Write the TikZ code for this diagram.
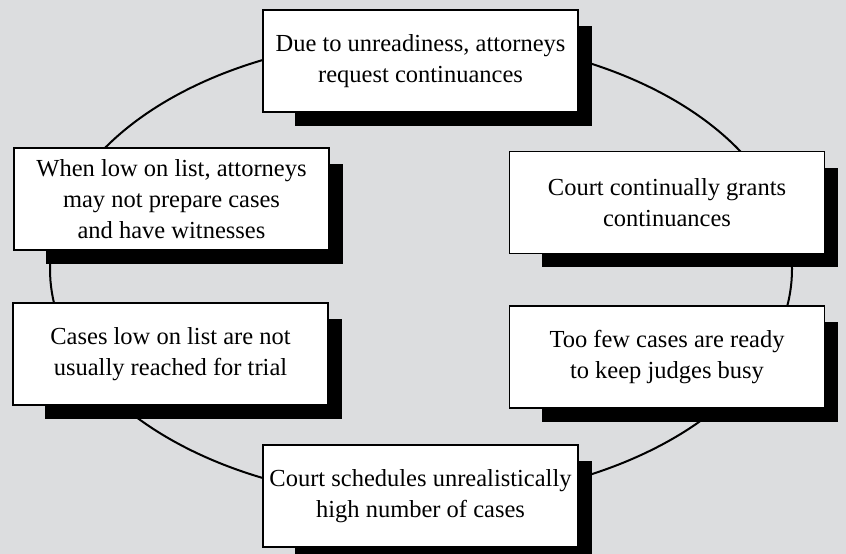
\documentclass[tikz,border=0pt]{standalone}
\usepackage{fontspec}
\setmainfont{Liberation Serif}
\usetikzlibrary{shapes.geometric}
\definecolor{bggray}{HTML}{DCDDDF}
\pgfdeclarelayer{back}
\pgfdeclarelayer{shade}
\pgfsetlayers{back,shade,main}
\tikzset{
  box/.style={draw=black, line width=1.8pt, fill=white, align=center,
    minimum width=315pt, minimum height=102pt, inner sep=0pt,
    font=\fontsize{24.5}{31}\selectfont},
  cycleline/.style={draw=black, line width=2pt},
}
\newcommand{\boxshadow}[1]{%
  \begin{pgfonlayer}{shade}
    \fill[black] ([shift={(33,17)}]#1.north west) rectangle ([shift={(13,13)}]#1.south east);
  \end{pgfonlayer}}
\begin{document}
\begin{tikzpicture}[x=1pt,y=-1pt]
\useasboundingbox (0,0) rectangle (846,554);
\clip (0,0) rectangle (846,554);
\begin{pgfonlayer}{back}
  \fill[bggray] (0,0) rectangle (846,554);
  \node[ellipse, cycleline, minimum width=742pt, minimum height=462pt, inner sep=0pt] (loop) at (421,269) {};
\end{pgfonlayer}
\node[box] (t)  at (420.5,61)  {Due to unreadiness, attorneys\\request continuances};
\node[box] (ur) at (667,202.5) {Court continually grants\\continuances};
\node[box] (lr) at (667,357)   {Too few cases are ready\\to keep judges busy};
\node[box] (b)  at (420.5,496) {Court schedules unrealistically\\high number of cases};
\node[box] (ll) at (170.5,354) {Cases low on list are not\\usually reached for trial};
\node[box] (ul) at (171.5,199) {When low on list, attorneys\\may not prepare cases\\and have witnesses};
\boxshadow{t}
\boxshadow{ur}
\boxshadow{lr}
\boxshadow{b}
\boxshadow{ll}
\boxshadow{ul}
\end{tikzpicture}
\end{document}
